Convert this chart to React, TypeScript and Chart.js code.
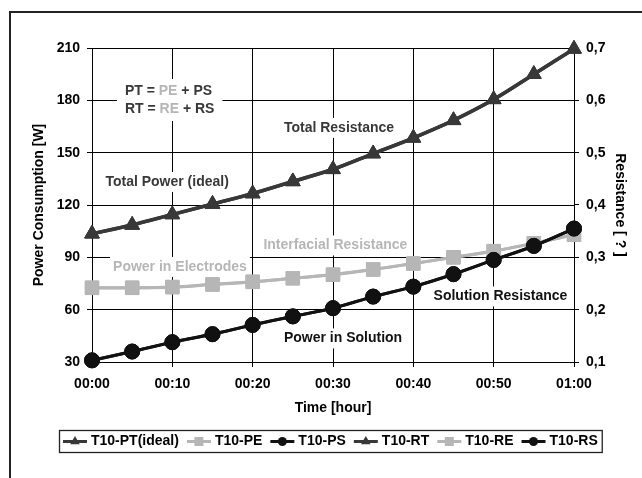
import React, { useEffect, useRef } from 'react';
import { Chart, registerables } from 'chart.js';

Chart.register(...registerables);

// ---- data ----
const minutes = [0, 5, 10, 15, 20, 25, 30, 35, 40, 45, 50, 55, 60];
const xTickLabels = ['00:00', '00:10', '00:20', '00:30', '00:40', '00:50', '01:00'];
const ptValues = [103.5, 108.5, 114.5, 120.5, 126.5, 133.5, 140.5, 149.5, 158.5, 168.5, 180.5, 195, 209.5];
const peValues = [72.5, 72.5, 73, 74.5, 76, 78, 80, 83, 86.5, 90, 93.5, 98, 103];
const psValues = [31, 36, 41.3, 46, 51.2, 56.2, 60.8, 67.5, 73.2, 80.3, 88.5, 96.5, 106.5];
const rtValues = [0.345, 0.362, 0.382, 0.402, 0.422, 0.445, 0.468, 0.498, 0.528, 0.562, 0.602, 0.65, 0.698];
const reValues = [0.242, 0.242, 0.243, 0.248, 0.253, 0.26, 0.267, 0.277, 0.288, 0.3, 0.312, 0.327, 0.343];
const rsValues = [0.103, 0.12, 0.138, 0.153, 0.171, 0.187, 0.203, 0.225, 0.244, 0.268, 0.295, 0.322, 0.355];
const seriesNames = ['T10-PT(ideal)', 'T10-PE', 'T10-PS', 'T10-RT', 'T10-RE', 'T10-RS'];

// ---- styling ----
const FAMILY = '"Liberation Sans", Arial, Helvetica, sans-serif';
const DARK = '#383838';
const GRAY = '#b6b6b6';
const BLACK = '#111111';
const BOLD14 = `bold 14px ${FAMILY}`;

type Seg = { t: string; c: string };
type Ann = { lines: Seg[][]; x: number; y: number; align: 'left' | 'center'; padX: number; padY: number; lh: number };

const annotations: Ann[] = [
  {
    lines: [
      [{ t: 'PT = ', c: DARK }, { t: 'PE', c: GRAY }, { t: ' + PS', c: DARK }],
      [{ t: 'RT = ', c: DARK }, { t: 'RE', c: GRAY }, { t: ' + RS', c: DARK }],
    ],
    x: 4.1, y: 180.2, align: 'left', padX: 8, padY: 3, lh: 18,
  },
  { lines: [[{ t: 'Total Resistance', c: DARK }]], x: 30.75, y: 164.2, align: 'center', padX: 3, padY: 2, lh: 16 },
  { lines: [[{ t: 'Total Power (ideal)', c: DARK }]], x: 9.35, y: 133.2, align: 'center', padX: 3, padY: 2, lh: 16 },
  { lines: [[{ t: 'Interfacial Resistance', c: GRAY }]], x: 30.3, y: 96.8, align: 'center', padX: 3, padY: 2, lh: 16 },
  { lines: [[{ t: 'Power in Electrodes', c: GRAY }]], x: 10.95, y: 84.5, align: 'center', padX: 3, padY: 2, lh: 16 },
  { lines: [[{ t: 'Solution Resistance', c: BLACK }]], x: 50.85, y: 67.6, align: 'center', padX: 3, padY: 2, lh: 16 },
  { lines: [[{ t: 'Power in Solution', c: BLACK }]], x: 31.25, y: 43.5, align: 'center', padX: 3, padY: 2, lh: 16 },
];

const toXY = (vals: number[]) => vals.map((v, i) => ({ x: minutes[i], y: v }));

const styles = [
  { color: DARK, marker: 'triangle', radius: 8.5, width: 3.5, order: 1 },
  { color: GRAY, marker: 'rect', radius: 9.5, width: 3, order: 2 },
  { color: BLACK, marker: 'circle', radius: 7.5, width: 3, order: 0 },
];

function drawMarker(ctx: CanvasRenderingContext2D, kind: string, x: number, y: number, color: string) {
  ctx.fillStyle = color;
  ctx.beginPath();
  if (kind === 'triangle') {
    const r = 5.5;
    ctx.moveTo(x, y - r);
    ctx.lineTo(x + r * 0.866, y + r * 0.5);
    ctx.lineTo(x - r * 0.866, y + r * 0.5);
    ctx.closePath();
  } else if (kind === 'rect') {
    ctx.rect(x - 4.5, y - 4.5, 9, 9);
  } else {
    ctx.arc(x, y, 4.5, 0, Math.PI * 2);
  }
  ctx.fill();
}

const extrasPlugin = {
  id: 'extras',
  beforeDatasetsDraw(chart: any) {
    const ctx: CanvasRenderingContext2D = chart.ctx;
    const xs = chart.scales.x;
    const ys = chart.scales.y;
    ctx.save();
    ctx.font = BOLD14;
    ctx.textBaseline = 'middle';
    ctx.textAlign = 'left';
    for (const a of annotations) {
      const px = xs.getPixelForValue(a.x);
      const py = ys.getPixelForValue(a.y);
      const widths = a.lines.map((l) => l.reduce((s, g) => s + ctx.measureText(g.t).width, 0));
      const maxW = Math.max(...widths);
      const h = a.lines.length * a.lh;
      const left = a.align === 'left' ? px : px - maxW / 2;
      const top = py - h / 2;
      ctx.fillStyle = '#ffffff';
      ctx.fillRect(left - a.padX, top - a.padY, maxW + 2 * a.padX, h + 2 * a.padY);
      a.lines.forEach((line, li) => {
        let cx = a.align === 'left' ? left : px - widths[li] / 2;
        const cy = top + a.lh * li + a.lh / 2;
        for (const g of line) {
          ctx.fillStyle = g.c;
          ctx.fillText(g.t, cx, cy);
          cx += ctx.measureText(g.t).width;
        }
      });
    }
    ctx.restore();
  },
  afterDraw(chart: any) {
    const ctx: CanvasRenderingContext2D = chart.ctx;
    const area = chart.chartArea;
    ctx.save();
    // outer frame
    ctx.strokeStyle = '#222';
    ctx.lineWidth = 2;
    ctx.strokeRect(10, 12, 1000, 1000);
    // legend
    ctx.font = BOLD14;
    ctx.textBaseline = 'middle';
    ctx.textAlign = 'left';
    const padL = 4, sym = 24, gapT = 4, gapI = 8, padR = 4;
    const widths = seriesNames.map((n) => ctx.measureText(n).width);
    const total = padL + widths.reduce((s, w) => s + sym + gapT + w, 0) + gapI * (seriesNames.length - 1) + padR;
    const left = Math.round((area.left + area.right) / 2 - 2.5 - total / 2);
    const top = 430;
    const h = 22;
    ctx.strokeStyle = '#222';
    ctx.lineWidth = 1.3;
    ctx.strokeRect(left + 0.5, top + 0.5, total, h);
    let x = left + padL;
    const cy = top + h / 2 + 0.5;
    seriesNames.forEach((name, i) => {
      const st = styles[i % 3];
      ctx.strokeStyle = st.color;
      ctx.lineWidth = 3;
      ctx.beginPath();
      ctx.moveTo(x, cy);
      ctx.lineTo(x + sym, cy);
      ctx.stroke();
      drawMarker(ctx, st.marker, x + sym / 2, cy, st.color);
      x += sym + gapT;
      ctx.fillStyle = '#000';
      ctx.fillText(name, x, cy);
      x += widths[i] + gapI;
    });
    ctx.restore();
  },
};

export default function App() {
  const ref = useRef<HTMLCanvasElement | null>(null);

  useEffect(() => {
    if (!ref.current) return;
    const valueSets = [ptValues, peValues, psValues, rtValues, reValues, rsValues];
    const datasets = valueSets.map((vals, i) => {
      const st = styles[i % 3];
      return {
        label: seriesNames[i],
        data: toXY(vals),
        yAxisID: i < 3 ? 'y' : 'y1',
        borderColor: st.color,
        backgroundColor: st.color,
        borderWidth: st.width,
        pointStyle: st.marker,
        pointRadius: st.radius,
        pointBorderWidth: 1,
        pointBackgroundColor: st.color,
        pointBorderColor: st.color,
        tension: 0.3,
        order: st.order,
        clip: false as any,
      };
    });
    const tickFont = { family: FAMILY, size: 14, weight: 'bold' as const, lineHeight: 1.2 };
    const chart = new Chart(ref.current, {
      type: 'line',
      data: { datasets },
      plugins: [extrasPlugin],
      options: {
        animation: false,
        responsive: false,
        maintainAspectRatio: false,
        layout: { padding: { top: 48, left: 0, right: 0, bottom: 0 } },
        plugins: { legend: { display: false }, tooltip: { enabled: false }, title: { display: false } },
        scales: {
          x: {
            type: 'linear',
            min: 0,
            max: 60,
            afterFit: (s: any) => { s.height = 116; },
            ticks: {
              stepSize: 10,
              autoSkip: false,
              maxRotation: 0,
              padding: 8.5,
              color: '#000',
              font: tickFont,
              callback: (v: any) => xTickLabels[Math.round(Number(v) / 10)],
            },
            grid: { color: '#000', lineWidth: 1, tickLength: 5, tickColor: '#000' },
            border: { color: '#000', width: 1 },
            title: {
              display: true,
              text: 'Time [hour]',
              color: '#000',
              font: tickFont,
              padding: { top: 0, bottom: 61.6 },
            },
          },
          y: {
            type: 'linear',
            position: 'left',
            min: 30,
            max: 210,
            afterFit: (s: any) => { s.width = 92; },
            ticks: { stepSize: 30, padding: 7, color: '#000', font: tickFont },
            grid: { color: '#000', lineWidth: 1, tickLength: 5, tickColor: '#000' },
            border: { color: '#000', width: 1 },
            title: {
              display: true,
              text: 'Power Consumption [W]',
              color: '#000',
              font: tickFont,
              padding: { top: 30.6, bottom: 0 },
            },
          },
          y1: {
            type: 'linear',
            position: 'right',
            min: 0.1,
            max: 0.7,
            afterFit: (s: any) => { s.width = 68; },
            ticks: {
              stepSize: 0.1,
              padding: 7,
              color: '#000',
              font: tickFont,
              callback: (v: any) => Number(v).toFixed(1).replace('.', ','),
            },
            grid: { drawOnChartArea: false, tickLength: 5, tickColor: '#000', color: '#000' },
            border: { color: '#000', width: 1 },
            title: {
              display: true,
              text: 'Resistance [ ? ]',
              color: '#000',
              font: tickFont,
              padding: { top: 13.6, bottom: 0 },
            },
          },
        },
      } as any,
    });
    return () => chart.destroy();
  }, []);

  return (
    <div style={{ position: 'fixed', left: 0, top: 0, width: 642, height: 478, background: '#fff' }}>
      <canvas ref={ref} width={642} height={478} style={{ width: 642, height: 478, display: 'block' }} />
    </div>
  );
}
